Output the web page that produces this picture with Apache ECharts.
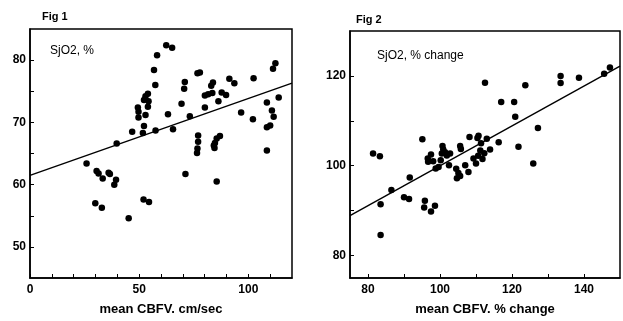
<!DOCTYPE html>
<html>
<head>
<meta charset="utf-8">
<script src="https://cdn.jsdelivr.net/npm/echarts@6/dist/echarts.min.js"></script>
<style>
  html, body { margin: 0; padding: 0; background: #fff; }
  #chart { width: 623px; height: 321px; }
</style>
</head>
<body>
<div id="chart"></div>
<script>
// Fig 1: SjO2 (%) vs mean CBFV (cm/sec)
const fig1Points = [
  [25.9, 63.4], [30.5, 62.2], [31.4, 61.8], [33.3, 61.0], [36.0, 61.9], [36.6, 61.7],
  [39.4, 60.8], [38.6, 60.0], [29.9, 57.0], [32.9, 56.3], [39.7, 66.6], [45.2, 54.6],
  [46.8, 68.5], [49.4, 72.4], [49.7, 71.7], [49.7, 70.8], [51.7, 68.3], [52.2, 69.4],
  [52.2, 73.6], [52.9, 71.2], [52.9, 74.2], [54.0, 72.5], [54.0, 74.6], [54.3, 73.4],
  [57.5, 68.7], [57.4, 76.0], [56.8, 78.4], [58.2, 80.8], [52.0, 57.6], [54.5, 57.2],
  [62.4, 82.4], [65.1, 82.0], [63.2, 71.3], [65.5, 68.9], [69.4, 73.0], [70.6, 75.4],
  [70.9, 76.5], [71.2, 61.7], [73.2, 71.0], [76.7, 77.9], [77.8, 78.0], [77.0, 67.9],
  [77.0, 66.9], [76.7, 65.8], [76.5, 65.1], [80.1, 74.3], [80.1, 72.4], [81.6, 74.5],
  [83.5, 74.7], [83.8, 76.4], [83.0, 75.9], [84.2, 66.3], [84.7, 66.7], [85.5, 67.4],
  [87.0, 67.8], [84.5, 65.9], [85.5, 60.5], [86.3, 73.4], [87.8, 74.8], [89.8, 74.4],
  [91.3, 77.0], [93.6, 76.3], [96.7, 71.6], [102.1, 70.5], [102.4, 77.1], [108.5, 73.2],
  [108.5, 69.2], [110.0, 69.5], [108.5, 65.5], [110.8, 71.9], [111.6, 70.9], [111.3, 78.6],
  [112.4, 79.5], [113.9, 74.0]
];
const fig1Fit = [[0, 61.5], [120, 76.3]];
const fig1XTicks = [0, 10, 20, 30, 40, 50, 60, 70, 80, 90, 100, 110];
const fig1XLabels = [0, 50, 100];
const fig1YTicks = [50, 55, 60, 65, 70, 75, 80];
const fig1YLabels = [50, 60, 70, 80];

// Fig 2: SjO2 (% change) vs mean CBFV (% change)
const fig2Points = [
  [81.4, 102.7], [83.3, 102.1], [83.5, 91.4], [83.5, 84.6], [86.5, 94.6], [90.0, 93.0],
  [91.4, 92.6], [91.6, 97.4], [95.1, 105.9], [95.8, 92.2], [95.6, 90.7], [98.6, 91.1],
  [97.5, 89.8], [96.6, 101.6], [96.7, 100.9], [97.5, 102.5], [98.1, 101.0], [98.8, 99.4],
  [99.6, 99.7], [100.5, 102.7], [100.7, 104.4], [100.9, 103.6], [101.4, 103.0], [101.9, 102.3],
  [100.2, 101.2], [102.8, 102.7], [102.5, 100.1], [104.5, 99.3], [105.1, 98.4], [104.7, 97.2],
  [105.6, 97.7], [105.6, 104.4], [105.8, 103.7], [107.0, 100.1], [107.9, 98.6], [108.2, 106.4],
  [109.3, 101.6], [110.0, 100.5], [110.7, 106.7], [110.4, 106.2], [111.4, 105.0], [111.2, 103.4],
  [110.6, 102.2], [111.8, 101.5], [112.3, 102.8], [113.0, 106.0], [113.9, 103.6], [116.3, 105.2],
  [112.5, 118.5], [117.0, 114.2], [120.6, 114.2], [120.9, 110.9], [121.8, 104.2], [123.7, 117.9],
  [125.9, 100.5], [127.2, 108.4], [133.5, 120.0], [133.5, 118.4], [138.6, 119.6], [145.6, 120.5],
  [147.2, 121.9]
];
const fig2Fit = [[75, 88.9], [150, 122.2]];
const fig2XTicks = [80, 90, 100, 110, 120, 130, 140];
const fig2XLabels = [80, 100, 120, 140];
const fig2YTicks = [80, 90, 100, 110, 120];
const fig2YLabels = [80, 100, 120];

const FONT = 'Liberation Sans, Arial, sans-serif';
const INK = '#000';

function xAxisFor(gridIndex, min, max, ticks, labels, name) {
  return {
    gridIndex, type: 'value', min, max,
    name, nameLocation: 'middle', nameGap: 25,
    nameTextStyle: { color: INK, fontFamily: FONT, fontSize: 13, fontWeight: 'bold' },
    axisLine: { lineStyle: { color: INK, width: 1.5 } },
    axisTick: { inside: true, length: 4, customValues: ticks, lineStyle: { color: INK } },
    axisLabel: { customValues: labels, color: INK, fontFamily: FONT, fontSize: 12, fontWeight: 'bold', margin: 6 },
    splitLine: { show: false }
  };
}

function yAxisFor(gridIndex, min, max, ticks, labels) {
  return {
    gridIndex, type: 'value', min, max,
    axisLine: { lineStyle: { color: INK, width: 1.5 } },
    axisTick: { inside: true, length: 4, customValues: ticks, lineStyle: { color: INK } },
    axisLabel: { customValues: labels, color: INK, fontFamily: FONT, fontSize: 12, fontWeight: 'bold', margin: 4 },
    splitLine: { show: false }
  };
}

const chart = echarts.init(document.getElementById('chart'), null, { renderer: 'canvas' });

chart.setOption({
  animation: false,
  backgroundColor: '#fff',
  title: [
    { text: 'Fig 1', left: 37, top: 6, textStyle: { color: INK, fontFamily: FONT, fontSize: 11, fontWeight: 'bold' } },
    { text: 'SjO2, %', left: 45, top: 40, textStyle: { color: INK, fontFamily: FONT, fontSize: 12, fontWeight: 'normal' } },
    { text: 'Fig 2', left: 351, top: 9, textStyle: { color: INK, fontFamily: FONT, fontSize: 11, fontWeight: 'bold' } },
    { text: 'SjO2, % change', left: 372, top: 45, textStyle: { color: INK, fontFamily: FONT, fontSize: 12, fontWeight: 'normal' } }
  ],
  grid: [
    { left: 30, top: 29, width: 262, height: 256, show: true, borderColor: INK, borderWidth: 1.5, backgroundColor: 'transparent' },
    { left: 350, top: 31, width: 270, height: 256, show: true, borderColor: INK, borderWidth: 1.5, backgroundColor: 'transparent' }
  ],
  xAxis: [
    xAxisFor(0, 0, 120, fig1XTicks, fig1XLabels, 'mean CBFV. cm/sec'),
    xAxisFor(1, 75, 150, fig2XTicks, fig2XLabels, 'mean CBFV. % change')
  ],
  yAxis: [
    yAxisFor(0, 45, 85, fig1YTicks, fig1YLabels),
    yAxisFor(1, 75, 130, fig2YTicks, fig2YLabels)
  ],
  series: [
    { type: 'scatter', xAxisIndex: 0, yAxisIndex: 0, data: fig1Points, symbolSize: 6.5, itemStyle: { color: INK, opacity: 1 } },
    { type: 'line', xAxisIndex: 0, yAxisIndex: 0, data: fig1Fit, showSymbol: false, lineStyle: { color: INK, width: 1.4 } },
    { type: 'scatter', xAxisIndex: 1, yAxisIndex: 1, data: fig2Points, symbolSize: 6.5, itemStyle: { color: INK, opacity: 1 } },
    { type: 'line', xAxisIndex: 1, yAxisIndex: 1, data: fig2Fit, showSymbol: false, lineStyle: { color: INK, width: 1.4 } }
  ]
});
</script>
</body>
</html>
